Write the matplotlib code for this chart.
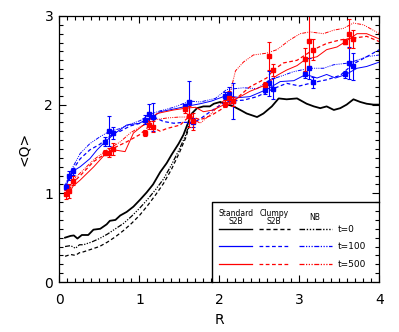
import matplotlib
matplotlib.use("Agg")
import matplotlib.pyplot as plt
from matplotlib.ticker import MultipleLocator

# ---- black curves (t=0) ----
r_k_std = [0.07, 0.14, 0.18, 0.225, 0.28, 0.36, 0.425, 0.51, 0.59, 0.63, 0.70, 0.76, 0.84, 0.925,
           1.01, 1.09, 1.17, 1.26, 1.34, 1.405, 1.49, 1.55, 1.61, 1.655, 1.72, 1.80, 1.88, 1.93,
           2.01, 2.07, 2.175, 2.26, 2.34, 2.47, 2.55, 2.655, 2.74, 2.84, 2.97, 3.09, 3.18, 3.26,
           3.34, 3.43, 3.51, 3.59, 3.675, 3.76, 3.84, 3.925, 4.0]
q_k_std = [0.50, 0.52, 0.525, 0.49, 0.53, 0.53, 0.59, 0.60, 0.65, 0.69, 0.70, 0.75, 0.79, 0.85,
           0.93, 1.01, 1.10, 1.24, 1.34, 1.44, 1.56, 1.66, 1.80, 1.90, 1.96, 1.98, 1.98, 2.01,
           2.03, 2.01, 1.98, 1.94, 1.90, 1.86, 1.90, 1.98, 2.07, 2.06, 2.07, 2.01, 1.98, 1.96,
           1.98, 1.94, 1.96, 2.00, 2.06, 2.03, 2.01, 2.00, 2.00]
r_k_other = [0.07, 0.14, 0.2, 0.25, 0.3, 0.4, 0.5, 0.6, 0.7, 0.8, 0.9, 1.0, 1.1, 1.2, 1.3, 1.4,
             1.5, 1.58, 1.63]
q_k_nb = [0.40, 0.41, 0.38, 0.42, 0.42, 0.45, 0.49, 0.54, 0.60, 0.66, 0.74, 0.83, 0.93, 1.04,
          1.16, 1.32, 1.50, 1.66, 1.80]
q_k_clumpy = [0.29, 0.31, 0.30, 0.33, 0.34, 0.37, 0.40, 0.45, 0.51, 0.58, 0.66, 0.75, 0.86, 0.98,
              1.11, 1.27, 1.46, 1.63, 1.78]

# ---- blue curves (t=100) ----
r_b_std = [0.07, 0.12, 0.17, 0.26, 0.38, 0.47, 0.57, 0.7, 0.84, 1.0, 1.08, 1.2, 1.26, 1.43, 1.58,
           1.76, 1.9, 2.08, 2.25, 2.38, 2.59, 2.76, 2.93, 3.08, 3.22, 3.34, 3.45, 3.58, 3.72, 3.84, 4.0]
q_b_std = [1.05, 1.17, 1.25, 1.30, 1.39, 1.49, 1.58, 1.68, 1.77, 1.79, 1.83, 1.88, 1.92, 1.95, 1.98,
           2.01, 2.04, 2.10, 2.08, 2.09, 2.17, 2.26, 2.27, 2.34, 2.30, 2.34, 2.30, 2.34, 2.41, 2.43, 2.48]
r_b_clumpy = [0.07, 0.12, 0.17, 0.26, 0.38, 0.5, 0.6, 0.68, 0.76, 0.885, 1.01, 1.18, 1.3, 1.43, 1.55,
              1.68, 1.76, 1.9, 2.09, 2.3, 2.47, 2.675, 2.84, 3.0, 3.175, 3.34, 3.51, 3.675, 3.84, 4.0]
q_b_clumpy = [1.06, 1.18, 1.27, 1.39, 1.49, 1.55, 1.62, 1.68, 1.70, 1.76, 1.79, 1.86, 1.81, 1.79, 1.80,
              1.80, 1.84, 1.93, 2.04, 2.05, 2.09, 2.18, 2.24, 2.21, 2.25, 2.28, 2.33, 2.46, 2.54, 2.62]
r_b_nb = [0.07, 0.12, 0.17, 0.26, 0.38, 0.51, 0.63, 0.76, 0.885, 1.01, 1.13, 1.26, 1.43, 1.63, 1.76,
          1.95, 2.09, 2.3, 2.47, 2.63, 2.8, 2.92, 3.125, 3.3, 3.43, 3.625, 3.84, 4.0]
q_b_nb = [1.08, 1.21, 1.30, 1.45, 1.56, 1.64, 1.70, 1.73, 1.78, 1.82, 1.89, 1.93, 1.97, 2.04, 2.03,
          2.07, 2.17, 2.19, 2.18, 2.28, 2.33, 2.37, 2.41, 2.41, 2.45, 2.47, 2.54, 2.56]

# ---- red curves (t=500) ----
r_r_std = [0.07, 0.12, 0.17, 0.26, 0.43, 0.58, 0.68, 0.82, 0.925, 1.05, 1.22, 1.43, 1.58, 1.7, 1.8,
           1.925, 2.08, 2.2, 2.38, 2.575, 2.72, 2.84, 2.97, 3.075, 3.22, 3.34, 3.47, 3.575, 3.72,
           3.84, 4.0]
q_r_std = [0.97, 1.00, 1.08, 1.15, 1.30, 1.45, 1.49, 1.47, 1.68, 1.77, 1.90, 1.94, 1.96, 1.97, 1.92,
           1.94, 2.01, 2.06, 2.15, 2.22, 2.33, 2.39, 2.44, 2.51, 2.54, 2.62, 2.65, 2.71, 2.80,
           2.80, 2.74]
r_r_clumpy = [0.07, 0.12, 0.17, 0.26, 0.43, 0.58, 0.7, 0.84, 1.0, 1.125, 1.26, 1.34, 1.51, 1.625,
              1.76, 1.9, 2.01, 2.175, 2.38, 2.59, 2.675, 2.8, 2.97, 3.175, 3.34, 3.51, 3.675, 3.84, 4.0]
q_r_clumpy = [0.99, 1.03, 1.12, 1.20, 1.36, 1.45, 1.52, 1.58, 1.66, 1.76, 1.70, 1.73, 1.77, 1.87,
              1.83, 1.88, 1.94, 2.04, 2.20, 2.30, 2.39, 2.47, 2.50, 2.62, 2.69, 2.73, 2.75, 2.77, 2.71]
r_r_nb = [0.07, 0.12, 0.17, 0.26, 0.43, 0.58, 0.76, 0.885, 1.01, 1.2, 1.35, 1.5, 1.63, 1.76, 1.9,
          2.01, 2.125, 2.2, 2.3, 2.425, 2.59, 2.72, 2.88, 3.01, 3.13, 3.3, 3.43, 3.55, 3.675, 3.8, 4.0]
q_r_nb = [1.00, 1.05, 1.15, 1.23, 1.38, 1.48, 1.58, 1.68, 1.75, 1.83, 1.85, 1.86, 1.86, 1.79, 1.90,
          2.01, 2.10, 2.38, 2.48, 2.56, 2.58, 2.62, 2.73, 2.80, 2.82, 2.80, 2.84, 2.86, 2.92, 2.90, 2.80]

# ---- error bar points ----
r_b_pts = [0.08, 0.125, 0.175, 0.575, 0.625, 0.675, 1.075, 1.125, 1.175, 1.575, 1.625, 1.675,
           2.075, 2.125, 2.175, 2.575, 2.625, 2.675, 3.075, 3.125, 3.175, 3.575, 3.625, 3.675]
q_b_pts = [1.07, 1.20, 1.25, 1.58, 1.70, 1.68, 1.83, 1.89, 1.86, 1.98, 2.03, 1.80,
           2.10, 2.12, 2.04, 2.16, 2.24, 2.18, 2.34, 2.41, 2.25, 2.34, 2.47, 2.43]
e_b_pts = [0.03, 0.05, 0.04, 0.05, 0.17, 0.07, 0.05, 0.12, 0.16, 0.03, 0.24, 0.05,
           0.04, 0.08, 0.20, 0.04, 0.14, 0.12, 0.04, 0.12, 0.06, 0.04, 0.18, 0.15]
r_r_pts = r_b_pts
q_r_pts = [0.99, 1.03, 1.14, 1.46, 1.46, 1.50, 1.68, 1.77, 1.75, 1.95, 1.87, 1.81,
           2.01, 2.08, 2.04, 2.22, 2.55, 2.39, 2.51, 2.72, 2.62, 2.71, 2.80, 2.74]
e_r_pts = [0.05, 0.08, 0.05, 0.03, 0.05, 0.07, 0.03, 0.05, 0.06, 0.04, 0.12, 0.10,
           0.04, 0.07, 0.05, 0.04, 0.16, 0.07, 0.13, 0.29, 0.12, 0.03, 0.16, 0.10]

STD = '-'
CLUMPY = (0, (3, 2))
NB = (0, (4, 1.2, 1, 1.2, 1, 1.2, 1, 1.2))


def draw_legend_box(ax):
    """legend drawn by hand in the lower right corner"""
    ax.plot([0.476, 0.476, 1.0], [0.0, 0.302, 0.302], color='black', lw=1.0,
            transform=ax.transAxes, clip_on=False)
    ax.text(0.552, 0.243, 'Standard\nS2B', transform=ax.transAxes, ha='center', va='center',
            fontsize=5.5, linespacing=0.95)
    ax.text(0.670, 0.243, 'Clumpy\nS2B', transform=ax.transAxes, ha='center', va='center',
            fontsize=5.5, linespacing=0.95)
    ax.text(0.798, 0.243, 'NB', transform=ax.transAxes, ha='center', va='center', fontsize=5.5)
    rows = [(0.199, 'black', 't=0'), (0.134, 'blue', 't=100'), (0.067, 'red', 't=500')]
    cols = [((0.499, 0.601), STD), ((0.624, 0.720), CLUMPY), ((0.748, 0.852), NB)]
    for y, c, label in rows:
        for (x0, x1), ls in cols:
            ax.plot([x0, x1], [y, y], color=c, ls=ls, lw=1.0 if c == 'black' else 0.9,
                    transform=ax.transAxes)
        ax.text(0.871, y, label, transform=ax.transAxes, ha='left', va='center', fontsize=6.5)


def main():
    fig = plt.figure(figsize=(3.99, 3.32), dpi=100)
    ax = fig.add_axes([0.149, 0.1506, 0.802, 0.8014])

    # t=0
    ax.plot(r_k_std, q_k_std, color='black', ls=STD, lw=1.3)
    ax.plot(r_k_other, q_k_clumpy, color='black', ls=CLUMPY, lw=0.9)
    ax.plot(r_k_other, q_k_nb, color='black', ls=NB, lw=0.9)
    # t=100
    ax.plot(r_b_std, q_b_std, color='blue', ls=STD, lw=0.7)
    ax.plot(r_b_clumpy, q_b_clumpy, color='blue', ls=CLUMPY, lw=0.9)
    ax.plot(r_b_nb, q_b_nb, color='blue', ls=NB, lw=0.7)
    # t=500
    ax.plot(r_r_std, q_r_std, color='red', ls=STD, lw=0.7)
    ax.plot(r_r_clumpy, q_r_clumpy, color='red', ls=CLUMPY, lw=0.9)
    ax.plot(r_r_nb, q_r_nb, color='red', ls=NB, lw=0.7)

    ax.errorbar(r_b_pts, q_b_pts, yerr=e_b_pts, fmt='s', color='blue', ms=2.8, elinewidth=0.8,
                capsize=1.5, capthick=0.8)
    ax.errorbar(r_r_pts, q_r_pts, yerr=e_r_pts, fmt='s', color='red', ms=2.8, elinewidth=0.8,
                capsize=1.5, capthick=0.8)

    ax.set_xlim(0, 4)
    ax.set_ylim(0, 3)
    ax.xaxis.set_major_locator(MultipleLocator(1))
    ax.xaxis.set_minor_locator(MultipleLocator(0.1))
    ax.yaxis.set_major_locator(MultipleLocator(1))
    ax.yaxis.set_minor_locator(MultipleLocator(0.1))
    ax.tick_params(which='both', direction='in', top=True, right=True, width=0.8)
    ax.tick_params(which='major', length=5, labelsize=10)
    ax.tick_params(which='minor', length=3)
    ax.tick_params(axis='x', which='major', pad=8)
    ax.tick_params(axis='y', which='major', pad=4.5)
    for s in ax.spines.values():
        s.set_linewidth(0.9)

    ax.set_xlabel('R', fontsize=10)
    ax.set_ylabel('<Q>', fontsize=10)
    ax.xaxis.set_label_coords(0.5, -0.117)
    ax.yaxis.set_label_coords(-0.09, 0.5)

    draw_legend_box(ax)

    fig.savefig('out.png', dpi=100)


if __name__ == "__main__":
    main()
